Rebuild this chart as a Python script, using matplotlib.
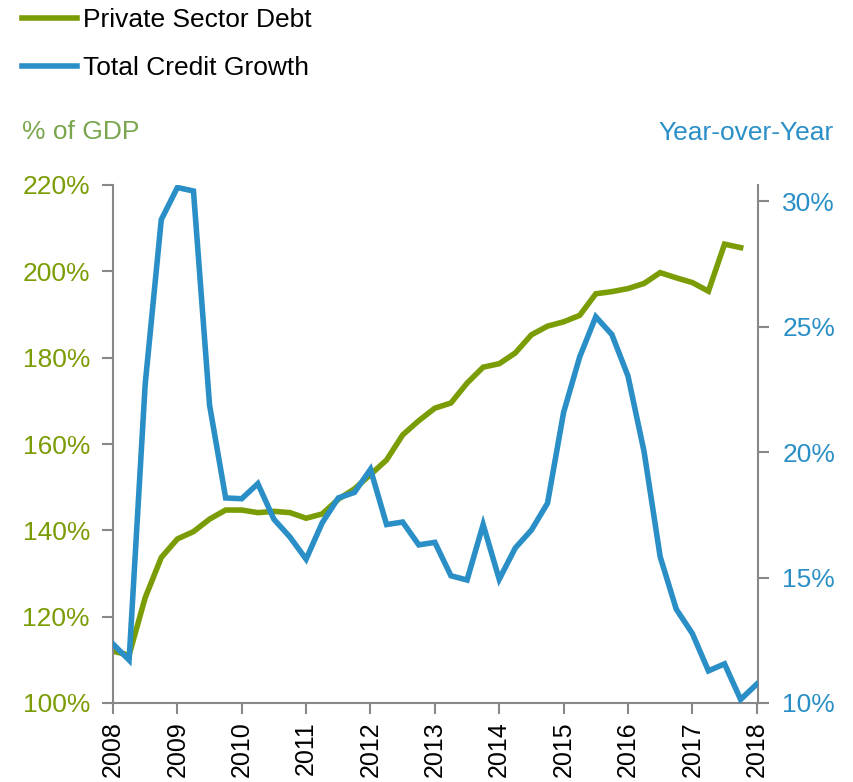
import numpy as np
import matplotlib.pyplot as plt
from matplotlib.ticker import FuncFormatter

plt.rcParams['font.family'] = ['Liberation Sans', 'DejaVu Sans']

# quarterly observations, 2008Q1 .. 2018Q1
quarters = np.arange(41) * 0.25 + 2008

# private sector debt, % of GDP (left axis), ends 2017Q4
private_debt = [112.0, 111.1, 124.4, 133.7, 138.0, 139.7, 142.6, 144.7, 144.7, 144.1,
                144.4, 144.1, 142.8, 143.8, 147.2, 149.6, 152.9, 156.3, 162.1, 165.4,
                168.3, 169.5, 174.1, 177.8, 178.6, 181.1, 185.3, 187.3, 188.3, 189.8,
                194.8, 195.3, 196.0, 197.2, 199.7, 198.5, 197.4, 195.4, 206.3, 205.5]

# total credit growth, year-over-year % (right axis)
credit_growth = [12.35, 11.71, 22.7, 29.26, 30.54, 30.4, 21.87, 18.17, 18.14, 18.74,
                 17.32, 16.61, 15.73, 17.18, 18.17, 18.39, 19.31, 17.11, 17.21, 16.30,
                 16.40, 15.07, 14.90, 17.11, 14.93, 16.18, 16.89, 17.96, 21.58, 23.79,
                 25.39, 24.68, 23.03, 20.02, 15.83, 13.74, 12.77, 11.28, 11.56, 10.14,
                 10.75]

years = list(range(2008, 2019))
left_ticks = [100, 120, 140, 160, 180, 200, 220]
right_ticks = [10, 15, 20, 25, 30]

green = '#7a9c05'
green_title = '#79a64e'
blue = '#2a8fc6'
spine_col = '#888888'
fs = 19

fig = plt.figure(figsize=(8.54, 7.82), dpi=100)
ax = fig.add_axes([113/854, 1 - 703/782, (758 - 113)/854, (703 - 185)/782])
ax2 = ax.twinx()

l1, = ax.plot(quarters[:len(private_debt)], private_debt, color=green, lw=4,
              solid_joinstyle='miter', label='Private Sector Debt', zorder=2)
l2, = ax2.plot(quarters, credit_growth, color=blue, lw=4,
               solid_joinstyle='miter', label='Total Credit Growth', zorder=3)

ax.set_xlim(2008, 2018.02)
ax.set_ylim(100, 220)
ax2.set_ylim(10, 30.64)

ax.set_xticks(years)
ax.set_xticklabels([str(y) for y in years], rotation=90, fontsize=18, color='black')
ax.set_yticks(left_ticks)
ax.yaxis.set_major_formatter(FuncFormatter(lambda v, p: '%d%%' % v))
ax2.set_yticks(right_ticks)
ax2.yaxis.set_major_formatter(FuncFormatter(lambda v, p: '%d%%' % v))

ax.tick_params(axis='y', colors=spine_col, labelcolor=green, labelsize=fs,
               length=8, width=1.5, direction='out', pad=8.6)
ax.tick_params(axis='x', colors=spine_col, labelcolor='black', labelsize=18,
               length=8, width=1.5, direction='out', pad=5)
ax2.tick_params(axis='y', colors=spine_col, labelcolor=blue, labelsize=fs,
                length=8, width=1.5, direction='out', pad=9.4)

for a in (ax, ax2):
    a.spines['top'].set_visible(False)
    for s in ('left', 'right', 'bottom'):
        a.spines[s].set_color(spine_col)
        a.spines[s].set_linewidth(1.5)
ax.spines['right'].set_visible(False)
ax2.spines['left'].set_visible(False)
ax2.spines['bottom'].set_visible(False)

fig.text(22/854, 1 - 132/782, '% of GDP', color=green_title, fontsize=fs,
         ha='left', va='center')
fig.text(834/854, 1 - 133/782, 'Year-over-Year', color=blue, fontsize=fs,
         ha='right', va='center')

fig.legend(handles=[l1, l2], loc='upper left', bbox_to_anchor=(22/854, 1 - 8/782),
           frameon=False, fontsize=fs, handlelength=2.1, handletextpad=0.2,
           labelspacing=0.9, borderpad=0, borderaxespad=0)

fig.savefig('out.png', dpi=100)
